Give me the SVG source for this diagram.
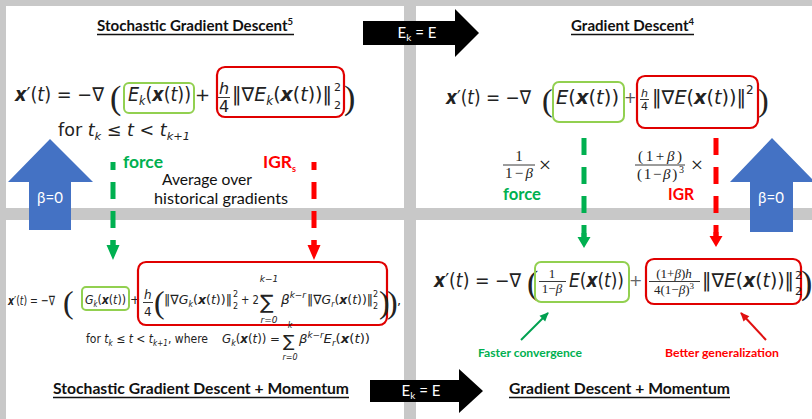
<svg xmlns="http://www.w3.org/2000/svg" width="812" height="419" viewBox="0 0 812 419">
<style>
.bg{fill:#c8c8c8}
.panel{fill:#ffffff}
.m{font-family:"DejaVu Sans","Noto Sans",sans-serif;fill:#222}
.i{font-style:italic}
.bi{font-weight:bold;font-style:italic}
.sr{font-family:"Liberation Serif","DejaVu Serif",serif;fill:#222}
.bp{font-family:"Liberation Serif","DejaVu Serif",serif;fill:#222}
.ttl{font-family:Lato,"Liberation Sans",sans-serif;font-weight:bold;fill:#111;font-size:16px}
.ul{stroke:#111;stroke-width:1.3}
.lbl{font-family:Lato,"Liberation Sans",sans-serif;font-weight:bold}
.txt{font-family:Lato,"Liberation Sans",sans-serif;fill:#111}
.gbox{fill:none;stroke:#92d050;stroke-width:2}
.rbox{fill:none;stroke:#e00000;stroke-width:2.2}
.gtx{fill:#00b050}
.rtx{fill:#ff0000}
.gd{stroke:#00b050;stroke-width:5;fill:none}
.rd{stroke:#ff0000;stroke-width:5;fill:none}
.bar{stroke:#222;stroke-width:0.9}
.blue{fill:#4472c4}
.blk{fill:#000}
.wt{font-family:Lato,"Liberation Sans",sans-serif;fill:#fff;font-size:15px}
</style>
<defs>
<marker id="hg" markerUnits="userSpaceOnUse" orient="auto" refX="0" refY="0" markerWidth="30" markerHeight="30" overflow="visible">
<path d="M-5,-2.5 L0,-2.5 L0,-6.5 L15,0 L0,6.5 L0,2.5 L-5,2.5 Z" fill="#00b050"/>
</marker>
<marker id="hr" markerUnits="userSpaceOnUse" orient="auto" refX="0" refY="0" markerWidth="30" markerHeight="30" overflow="visible">
<path d="M-5,-2.5 L0,-2.5 L0,-6.5 L15,0 L0,6.5 L0,2.5 L-5,2.5 Z" fill="#ff0000"/>
</marker>
<marker id="sg" markerUnits="userSpaceOnUse" orient="auto" refX="0" refY="0" markerWidth="30" markerHeight="30" overflow="visible">
<path d="M-4,-2.5 L0,-2.5 L0,-6.5 L11,0 L0,6.5 L0,2.5 L-4,2.5 Z" fill="#00b050"/>
</marker>
<marker id="sr" markerUnits="userSpaceOnUse" orient="auto" refX="0" refY="0" markerWidth="30" markerHeight="30" overflow="visible">
<path d="M-4,-2.5 L0,-2.5 L0,-6.5 L11,0 L0,6.5 L0,2.5 L-4,2.5 Z" fill="#ff0000"/>
</marker>
<marker id="tg" markerUnits="userSpaceOnUse" orient="auto" refX="8" refY="0" markerWidth="20" markerHeight="20" overflow="visible">
<path d="M0,-4 L9,0 L0,4 Z" fill="#00a050"/>
</marker>
<marker id="trr" markerUnits="userSpaceOnUse" orient="auto" refX="8" refY="0" markerWidth="20" markerHeight="20" overflow="visible">
<path d="M0,-4 L9,0 L0,4 Z" fill="#e01010"/>
</marker>
</defs>

<rect class="bg" x="0" y="0" width="812" height="419"/>

<!-- Panel: Stochastic Gradient Descent -->
<g id="sgd">
<rect class="panel" x="6" y="6" width="398" height="202"/>
<text class="ttl" x="97" y="31" textLength="196" lengthAdjust="spacingAndGlyphs">Stochastic Gradient Descent<tspan dy="-6" style="font-size:10px">5</tspan></text>
<line class="ul" x1="97" y1="34.5" x2="294" y2="34.5"/>
<text class="m" x="15" y="101" font-size="19" textLength="89" lengthAdjust="spacingAndGlyphs"><tspan class="bi">x</tspan>′(<tspan class="i">t</tspan>) = −∇</text>
<text class="bp" x="110" y="109" font-size="34">(</text>
<rect class="gbox" x="124" y="83" width="70" height="30" rx="5"/>
<text class="m" x="128" y="101" font-size="19" textLength="63" lengthAdjust="spacingAndGlyphs"><tspan class="i">E</tspan><tspan class="i" font-size="12" dy="4">k</tspan><tspan dy="-4">(</tspan><tspan class="bi">x</tspan>(<tspan class="i">t</tspan>))</text>
<text class="m" x="195" y="101" font-size="18">+</text>
<rect class="rbox" x="217" y="67" width="127" height="50" rx="8"/>
<text class="m i" x="219" y="94" font-size="16">h</text>
<line class="bar" x1="218" y1="97.5" x2="230" y2="97.5"/>
<text class="m" x="219" y="112" font-size="16">4</text>
<text class="m" x="232" y="101" font-size="19" textLength="100" lengthAdjust="spacingAndGlyphs">‖∇<tspan class="i">E</tspan><tspan class="i" font-size="12" dy="4">k</tspan><tspan dy="-4">(</tspan><tspan class="bi">x</tspan>(<tspan class="i">t</tspan>))‖</text>
<text class="m" x="334" y="91" font-size="11">2</text>
<text class="m" x="334" y="109" font-size="11">2</text>
<text class="bp" x="344" y="109" font-size="34">)</text>
<text class="m" x="58" y="136" font-size="17" textLength="132" lengthAdjust="spacingAndGlyphs">for  <tspan class="i">t</tspan><tspan class="i" font-size="11" dy="4">k</tspan><tspan dy="-4"> ≤ </tspan><tspan class="i">t</tspan> &lt; <tspan class="i">t</tspan><tspan class="i" font-size="11" dy="4">k+1</tspan></text>
<text class="lbl gtx" x="123" y="168" font-size="17" textLength="40" lengthAdjust="spacingAndGlyphs">force</text>
<text class="lbl rtx" x="263" y="168" font-size="17" textLength="33" lengthAdjust="spacingAndGlyphs">IGR<tspan font-size="9" dy="4">s</tspan></text>
<text class="txt" x="162" y="185" font-size="15" textLength="90" lengthAdjust="spacingAndGlyphs">Average over</text>
<text class="txt" x="154" y="204" font-size="15" textLength="134" lengthAdjust="spacingAndGlyphs">historical  gradients</text>
</g>

<!-- Panel: Gradient Descent -->
<g id="gd">
<rect class="panel" x="416" y="6" width="396" height="202"/>
<text class="ttl" x="571" y="31" textLength="123" lengthAdjust="spacingAndGlyphs">Gradient Descent<tspan dy="-6" style="font-size:10px">4</tspan></text>
<line class="ul" x1="571" y1="34.5" x2="694" y2="34.5"/>
<text class="m" x="446" y="104" font-size="19" textLength="85" lengthAdjust="spacingAndGlyphs"><tspan class="bi">x</tspan>′(<tspan class="i">t</tspan>) = −∇</text>
<text class="bp" x="542" y="111" font-size="32">(</text>
<rect class="gbox" x="553" y="82" width="71" height="40" rx="6"/>
<text class="m" x="556" y="104" font-size="19" textLength="63" lengthAdjust="spacingAndGlyphs"><tspan class="i">E</tspan>(<tspan class="bi">x</tspan>(<tspan class="i">t</tspan>))</text>
<text class="m" x="624" y="103" font-size="15" style="fill:#555">+</text>
<rect class="rbox" x="637" y="76" width="121" height="52" rx="8"/>
<text class="m i" x="641" y="97" font-size="11">h</text>
<line class="bar" x1="640" y1="99.5" x2="649" y2="99.5"/>
<text class="m" x="641" y="110" font-size="11">4</text>
<text class="m" x="652" y="104" font-size="19" textLength="94" lengthAdjust="spacingAndGlyphs">‖∇<tspan class="i">E</tspan>(<tspan class="bi">x</tspan>(<tspan class="i">t</tspan>))‖</text>
<text class="m" x="746" y="94" font-size="12">2</text>
<text class="bp" x="758" y="111" font-size="32">)</text>
<text class="sr" x="519" y="161" font-size="15" text-anchor="middle">1</text>
<line class="bar" x1="503" y1="165" x2="535" y2="165"/>
<text class="sr" x="505" y="178" font-size="15" textLength="28" lengthAdjust="spacing">1−<tspan font-style="italic">β</tspan></text>
<text class="sr" x="545" y="172" font-size="22" text-anchor="middle">×</text>
<text class="sr" x="638" y="161" font-size="15" textLength="44" lengthAdjust="spacing">(1+<tspan font-style="italic">β</tspan>)</text>
<line class="bar" x1="635" y1="165" x2="685" y2="165"/>
<text class="sr" x="637" y="179" font-size="15" textLength="47" lengthAdjust="spacing">(1−<tspan font-style="italic">β</tspan>)<tspan font-size="10" dy="-6">3</tspan></text>
<text class="sr" x="697" y="172" font-size="22" text-anchor="middle">×</text>
<text class="lbl gtx" x="503" y="200" font-size="17" textLength="38" lengthAdjust="spacingAndGlyphs">force</text>
<text class="lbl rtx" x="668" y="200" font-size="17" textLength="26" lengthAdjust="spacingAndGlyphs">IGR</text>
</g>

<!-- Panel: Stochastic Gradient Descent + Momentum -->
<g id="sgdm">
<rect class="panel" x="6" y="220" width="398" height="199"/>
<text class="m" x="8" y="305" font-size="13" textLength="47" lengthAdjust="spacingAndGlyphs"><tspan class="bi">x</tspan>′(<tspan class="i">t</tspan>) = −∇</text>
<text class="bp" x="63" y="313" font-size="32">(</text>
<rect class="gbox" x="82" y="287" width="47" height="23" rx="4"/>
<text class="m" x="85" y="304" font-size="13" textLength="41" lengthAdjust="spacingAndGlyphs"><tspan class="i">G</tspan><tspan class="i" font-size="8" dy="3">k</tspan><tspan dy="-3">(</tspan><tspan class="bi">x</tspan>(<tspan class="i">t</tspan>))</text>
<text class="m" x="130" y="304" font-size="12">+</text>
<rect class="rbox" x="138" y="262" width="249" height="63" rx="8"/>
<text class="m i" x="144" y="299" font-size="12">h</text>
<line class="bar" x1="143" y1="302.5" x2="153" y2="302.5"/>
<text class="m" x="144" y="316" font-size="12">4</text>
<text class="bp" x="154" y="313" font-size="32">(</text>
<text class="m" x="164" y="304" font-size="13" textLength="68" lengthAdjust="spacingAndGlyphs">‖∇<tspan class="i">G</tspan><tspan class="i" font-size="8" dy="3">k</tspan><tspan dy="-3">(</tspan><tspan class="bi">x</tspan>(<tspan class="i">t</tspan>))‖</text>
<text class="m" x="233" y="297" font-size="8">2</text>
<text class="m" x="233" y="309" font-size="8">2</text>
<text class="m" x="241" y="304" font-size="13" textLength="18" lengthAdjust="spacingAndGlyphs">+ 2</text>
<text class="m" x="260" y="309" font-size="20">∑</text>
<text class="m i" x="269" y="282" font-size="9" text-anchor="middle">k−1</text>
<text class="m i" x="269" y="323" font-size="9" text-anchor="middle">r=0</text>
<text class="m" x="281" y="304" font-size="13" textLength="25" lengthAdjust="spacingAndGlyphs"><tspan class="i">β</tspan><tspan class="i" font-size="8.5" dy="-6">k−r</tspan></text>
<text class="m" x="307" y="304" font-size="13" textLength="66" lengthAdjust="spacingAndGlyphs">‖∇<tspan class="i">G</tspan><tspan class="i" font-size="8" dy="3">r</tspan><tspan dy="-3">(</tspan><tspan class="bi">x</tspan>(<tspan class="i">t</tspan>))‖</text>
<text class="m" x="373" y="297" font-size="8">2</text>
<text class="m" x="373" y="309" font-size="8">2</text>
<text class="bp" x="379" y="313" font-size="32">)</text>
<text class="bp" x="387" y="313" font-size="32">)</text>
<text class="m" x="397" y="305" font-size="13">,</text>
<text class="m" x="86" y="343" font-size="12" textLength="122" lengthAdjust="spacingAndGlyphs">for <tspan class="i">t</tspan><tspan class="i" font-size="8" dy="3">k</tspan><tspan dy="-3"> ≤ </tspan><tspan class="i">t</tspan> &lt; <tspan class="i">t</tspan><tspan class="i" font-size="8" dy="3">k+1</tspan><tspan dy="-3">, where</tspan></text>
<text class="m" x="222" y="343" font-size="12" textLength="58" lengthAdjust="spacingAndGlyphs"><tspan class="i">G</tspan><tspan class="i" font-size="8" dy="3">k</tspan><tspan dy="-3">(</tspan><tspan class="bi">x</tspan>(<tspan class="i">t</tspan>)) =</text>
<text class="m" x="283" y="347" font-size="17">∑</text>
<text class="m i" x="290" y="328" font-size="8" text-anchor="middle">k</text>
<text class="m i" x="290" y="360" font-size="8" text-anchor="middle">r=0</text>
<text class="m" x="299" y="343" font-size="12" textLength="71" lengthAdjust="spacingAndGlyphs"><tspan class="i">β</tspan><tspan class="i" font-size="8" dy="-5">k−r</tspan><tspan class="i" dy="5">E</tspan><tspan class="i" font-size="8" dy="3">r</tspan><tspan dy="-3">(</tspan><tspan class="bi">x</tspan>(<tspan class="i">t</tspan>))</text>
<text class="ttl" x="53" y="394" textLength="296" lengthAdjust="spacingAndGlyphs">Stochastic Gradient Descent + Momentum</text>
<line class="ul" x1="53" y1="397.5" x2="349" y2="397.5"/>
</g>

<!-- Panel: Gradient Descent + Momentum -->
<g id="gdm">
<rect class="panel" x="416" y="220" width="396" height="199"/>
<text class="m" x="434" y="287" font-size="19" textLength="87" lengthAdjust="spacingAndGlyphs"><tspan class="bi">x</tspan>′(<tspan class="i">t</tspan>) = −∇</text>
<text class="bp" x="527" y="294" font-size="34">(</text>
<rect class="gbox" x="535" y="262" width="94" height="40" rx="6"/>
<text class="sr" x="552" y="278" font-size="13" text-anchor="middle">1</text>
<line class="bar" x1="539" y1="281.5" x2="566" y2="281.5"/>
<text class="sr" x="552" y="293" font-size="13" text-anchor="middle">1−<tspan font-style="italic">β</tspan></text>
<text class="m" x="569" y="287" font-size="19" textLength="55" lengthAdjust="spacingAndGlyphs"><tspan class="i">E</tspan>(<tspan class="bi">x</tspan>(<tspan class="i">t</tspan>))</text>
<text class="m" x="629" y="286" font-size="16" style="fill:#666">+</text>
<rect class="rbox" x="646" y="259" width="155" height="45" rx="8"/>
<text class="sr" x="674" y="278" font-size="13" text-anchor="middle">(1+<tspan font-style="italic">β</tspan>)<tspan font-style="italic">h</tspan></text>
<line class="bar" x1="649" y1="281.5" x2="700" y2="281.5"/>
<text class="sr" x="674" y="294" font-size="13" text-anchor="middle">4(1−<tspan font-style="italic">β</tspan>)<tspan font-size="9" dy="-5">3</tspan></text>
<text class="m" x="702" y="287" font-size="19" textLength="92" lengthAdjust="spacingAndGlyphs">‖∇<tspan class="i">E</tspan>(<tspan class="bi">x</tspan>(<tspan class="i">t</tspan>))‖</text>
<text class="m" x="795" y="279" font-size="11">2</text>
<text class="m" x="795" y="295" font-size="11">2</text>
<text class="bp" x="801" y="294" font-size="34">)</text>
<text class="lbl gtx" x="478" y="357" font-size="12" textLength="104" lengthAdjust="spacingAndGlyphs">Faster convergence</text>
<text class="lbl rtx" x="665" y="357" font-size="12" textLength="114" lengthAdjust="spacingAndGlyphs">Better generalization</text>
<text class="ttl" x="509" y="394" textLength="221" lengthAdjust="spacingAndGlyphs">Gradient Descent + Momentum</text>
<line class="ul" x1="509" y1="397.5" x2="730" y2="397.5"/>
</g>

<!-- Connectors -->
<g id="connectors">
<line class="gd" x1="113" y1="162" x2="113" y2="245" stroke-dasharray="17 12" stroke-dashoffset="9" marker-end="url(#hg)"/>
<line class="rd" x1="314" y1="162" x2="314" y2="245" stroke-dasharray="17 12" stroke-dashoffset="9" marker-end="url(#hr)"/>
<line class="gd" x1="584" y1="138" x2="584" y2="237" stroke-dasharray="17 12" marker-end="url(#sg)"/>
<line class="rd" x1="716" y1="138" x2="716" y2="236" stroke-dasharray="17 12" marker-end="url(#sr)"/>
<line x1="521" y1="340" x2="548" y2="313" stroke="#00a050" stroke-width="2" marker-end="url(#tg)"/>
<line x1="766" y1="340" x2="741" y2="313" stroke="#e01010" stroke-width="2" marker-end="url(#trr)"/>
</g>

<!-- Block arrows -->
<g id="arrow-top">
<polygon class="blk" points="363,21 455,21 455,9 479,33 455,57 455,45 363,45"/>
<text class="wt" x="417" y="38" text-anchor="middle">E<tspan font-size="10" dy="3">k</tspan><tspan dy="-3"> = E</tspan></text>
</g>
<g id="arrow-bottom">
<polygon class="blk" points="370,380 459,380 459,369 483,391 459,413 459,402 370,402"/>
<text class="wt" x="421" y="396" text-anchor="middle">E<tspan font-size="10" dy="3">k</tspan><tspan dy="-3"> = E</tspan></text>
</g>
<g id="arrow-left">
<polygon class="blue" points="50,139 93,182 71,182 71,230 29,230 29,182 8,182"/>
<text class="wt" x="50" y="203" text-anchor="middle">β=0</text>
</g>
<g id="arrow-right">
<polygon class="blue" points="772,138 815,182 793,182 793,232 750,232 750,182 730,182"/>
<text class="wt" x="771" y="203" text-anchor="middle">β=0</text>
</g>
</svg>
